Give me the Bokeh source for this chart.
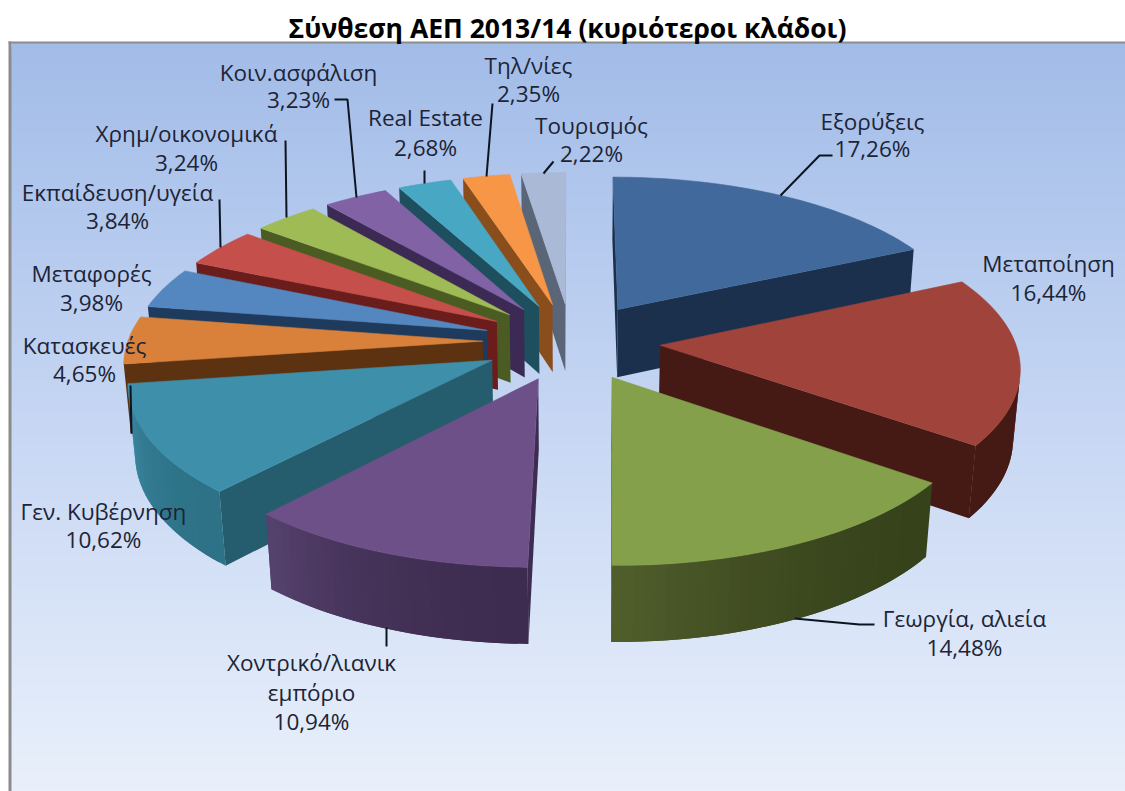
import math
from bokeh.plotting import figure
from bokeh.models import Range1d
from bokeh.core.properties import value
from bokeh.embed import file_html
from bokeh.resources import INLINE

# ---------- data ----------
names = ["Εξορύξεις", "Μεταποίηση", "Γεωργία, αλιεία", "Χοντρικό/λιανικ\nεμπόριο", "Γεν. Κυβέρνηση",
         "Κατασκευές", "Μεταφορές", "Εκπαίδευση/υγεία", "Χρημ/οικονομικά", "Κοιν.ασφάλιση",
         "Real Estate", "Τηλ/νίες", "Τουρισμός"]
shares = [17.26, 16.44, 14.48, 10.94, 10.62, 4.65, 3.98, 3.84, 3.24, 3.23, 2.68, 2.35, 2.22]
title = "Σύνθεση ΑΕΠ 2013/14 (κυριότεροι κλάδοι)"

# ---------- styles ----------
top_colors = ["#41699b", "#a0433b", "#85a04a", "#6d5088", "#3e8fa9", "#d9813a", "#5487bf",
              "#c44f4b", "#9fbb55", "#8162a5", "#48a8c4", "#f79646", "#a9b9d6"]
side_colors = ["#1b304d", "#451a15", "#36421a", "#3e2c50", "#265d6e", "#5c3211", "#1e3a5c",
               "#6a1d1b", "#4a5c22", "#3c2a55", "#1e4f5e", "#8a4e1c", "#5a6578"]
wall_from = ["#1b304d", "#451a15", "#36421a", "#3e2c50", "#2d7286", "#5c3211", "#1e3a5c",
             "#6a1d1b", "#4a5c22", "#3c2a55", "#1e4f5e", "#8a4e1c", "#5a6578"]
wall_to = ["#1b304d", "#451a15", "#515f2d", "#56426e", "#3f8ca8", "#5c3211", "#1e3a5c",
           "#6a1d1b", "#4a5c22", "#3c2a55", "#1e4f5e", "#8a4e1c", "#5a6578"]

# label centre x, first line y, line step
label_pos = [(872, 121, 27), (1048, 263, 29), (964, 618, 29), (311, 662, 29.5), (103, 511, 28),
             (84, 345, 28), (91, 273, 29), (117, 192, 28), (186, 133, 29), (298, 72, 27),
             (425, 117, 30), (528, 65, 28), (591, 125, 28)]
leaders = [[(832, 155), (819, 155), (780, 195)],
           [(874, 624), (859, 624), (794, 618)],
           [(386, 627), (386, 646)],
           [(285, 140), (286, 217)],
           [(219, 199), (220, 247)],
           [(334, 99), (347, 99), (356, 197)],
           [(424, 170), (424, 183)],
           [(492, 103), (486, 176)],
           [(543, 173), (553, 161)],
           [(130, 385), (131, 433)]]

# ---------- perspective of the pie ----------
CX, CY, SX, SY, PERSP = 571.0, 341.0, 355.0, 155.7, 0.1215
EXPLODE, THICK, BOTTOM = 0.25, 70.0, 0.016


def project(X, Y, low=False):
    w = 1 - PERSP * Y + (BOTTOM if low else 0)
    return CX + SX * X / w, CY + (SY * Y + (THICK if low else 0)) / w


def mix(a, b, t):
    ca = [int(a[i:i + 2], 16) for i in (1, 3, 5)]
    cb = [int(b[i:i + 2], 16) for i in (1, 3, 5)]
    return "#%02x%02x%02x" % tuple(round(x + (y - x) * t) for x, y in zip(ca, cb))


def area(pts):
    s = 0
    for i in range(len(pts)):
        x0, y0 = pts[i]
        x1, y1 = pts[(i + 1) % len(pts)]
        s += x0 * y1 - x1 * y0
    return s


total = sum(shares)
slices = []
acc = 0.0
for i, v in enumerate(shares):
    t0 = acc / total * 2 * math.pi
    acc += v
    t1 = acc / total * 2 * math.pi
    slices.append((i, t0, t1))

order = sorted(slices, key=lambda s: -math.cos((s[1] + s[2]) / 2))

xs, ys, cols, line_a = [], [], [], []


def add(pts, color, edge=1.0):
    xs.append([q[0] for q in pts])
    ys.append([q[1] for q in pts])
    cols.append(color)
    line_a.append(edge)


for i, t0, t1 in order:
    mid = (t0 + t1) / 2
    ax, ay = EXPLODE * math.sin(mid), -EXPLODE * math.cos(mid)
    n = max(4, int((t1 - t0) / math.radians(1.5)))
    rim = [(ax + math.sin(t0 + (t1 - t0) * k / n), ay - math.cos(t0 + (t1 - t0) * k / n)) for k in range(n + 1)]
    # rim wall: every band laps over the next so that no seam shows
    for k in range(n):
        q = [project(*rim[k]), project(*rim[k + 1]), project(*rim[k + 1], True), project(*rim[k], True)]
        if area(q) < 0:
            e = min(k + 2, n)
            q = [project(*rim[k]), project(*rim[e]), project(*rim[e], True), project(*rim[k], True)]
            add(q, mix(wall_from[i], wall_to[i], ((k + .5) / n) ** 2), 0.0)
    # cut walls
    for a, b in (((ax, ay), rim[0]), (rim[-1], (ax, ay))):
        q = [project(*a), project(*b), project(*b, True), project(*a, True)]
        if area(q) < 0:
            add(q, side_colors[i], 0.0)
    add([project(ax, ay)] + [project(*r) for r in rim], top_colors[i])

# ---------- figure ----------
p = figure(width=1125, height=791, x_range=Range1d(0, 1125), y_range=Range1d(791, 0),
           output_backend="svg", toolbar_location=None, min_border=0,
           background_fill_color="white", outline_line_color=None)
p.axis.visible = False
p.grid.visible = False

# backdrop gradient
steps = 190
gy = [42 + (791 - 42) * k / steps for k in range(steps)]
gc = [mix("#a2bce8", "#c6d6f3", k / steps * 2) if k < steps / 2 else mix("#c6d6f3", "#e9f0fb", k / steps * 2 - 1)
      for k in range(steps)]
p.quad(left=[11] * steps, right=[1125] * steps, top=gy, bottom=[791] * steps, fill_color=gc, line_color=None)
p.quad(left=[8, 8], right=[11, 1125], top=[41, 41], bottom=[791, 43], fill_color="#8b8b8b", line_color=None)

p.patches(xs, ys, fill_color=cols, line_color=cols, line_alpha=line_a, line_width=0.6)

for pts in leaders:
    p.line([q[0] for q in pts], [q[1] for q in pts], line_color="#0c1420", line_width=2)

p.text(x=[567], y=[27], text=[title], text_align="center", text_baseline="middle",
       text_font=value("Open Sans"), text_font_style="bold", text_font_size="26.5px", text_color="black")

tx, ty, tt = [], [], []
for name, v, (x, y, step) in zip(names, shares, label_pos):
    lines = name.split("\n") + [f"{v:.2f}%".replace(".", ",")]
    for j, line in enumerate(lines):
        tx.append(x)
        ty.append(y + j * step)
        tt.append(line)
p.text(x=tx, y=ty, text=tt, text_align="center", text_baseline="middle",
       text_font=value("Open Sans"), text_font_size="22.5px", text_color="#1c2436")

open("out.html", "w").write(file_html(p, INLINE))
